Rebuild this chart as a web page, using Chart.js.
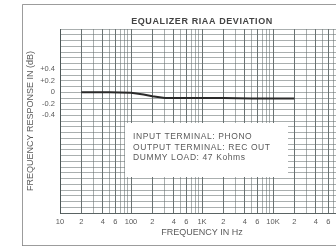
<!DOCTYPE html>
<html><head><meta charset="utf-8">
<script src="https://cdn.jsdelivr.net/npm/chart.js@4"></script>
<style>html,body{margin:0;padding:0;background:#fff;overflow:hidden;width:336px;height:247px}canvas{display:block}</style>
</head><body>
<canvas id="c" width="350" height="247"></canvas>
<script>
const frequencies = [20, 50, 100, 150, 200, 300, 500, 1000, 2000, 5000, 10000, 20000];
const deviationDb = [0, 0, -0.01, -0.04, -0.07, -0.1, -0.1, -0.1, -0.1, -0.11, -0.11, -0.11];
const yTickLabels = {'0.4':'+0.4','0.2':'+0.2','0':'0','-0.2':'-0.2','-0.4':'-0.4'};
const xTickLabels = {10:'10',20:'2',40:'4',60:'6',100:'100',200:'2',400:'4',600:'6',1000:'1K',2000:'2',4000:'4',6000:'6',10000:'10K',20000:'2',40000:'4',60000:'6'};
const decades = [10, 100, 1000, 10000];
const multiples = [1,2,3,4,5,6,7,8,9];
const noteLines = ['INPUT TERMINAL: PHONO','OUTPUT TERMINAL: REC OUT','DUMMY LOAD: 47 Kohms'];
const titleText = 'EQUALIZER RIAA DEVIATION';
const xTitle = 'FREQUENCY IN Hz';
const yTitle = 'FREQUENCY RESPONSE IN (dB)';

const textColor = '#5a5a5a';
const gridColor = 'rgba(100,110,110,0.55)';
const gridDark = 'rgba(70,80,80,0.8)';
const fontFam = '"Liberation Sans", Arial, sans-serif';

const xGridValues = [];
decades.forEach(d => multiples.forEach(m => xGridValues.push(d*m)));
xGridValues.push(100000);

const decor = {
  id: 'decor',
  beforeDatasetsDraw(chart) {
    const ctx = chart.ctx;
    ctx.save();
    ctx.fillStyle = '#fff';
    ctx.fillRect(125, 123, 163, 54);
    ctx.fillStyle = textColor;
    ctx.font = '8.5px ' + fontFam;
    ctx.letterSpacing = '0.6px';
    ctx.textBaseline = 'middle';
    ctx.textAlign = 'left';
    noteLines.forEach((t, i) => ctx.fillText(t, 133, 137 + i * 10.5));
    ctx.restore();
  },
  afterDraw(chart) {
    const ctx = chart.ctx, a = chart.chartArea;
    ctx.save();
    ctx.fillStyle = '#444';
    ctx.font = 'bold 9px ' + fontFam;
    ctx.letterSpacing = '0.6px';
    ctx.textAlign = 'center';
    ctx.textBaseline = 'middle';
    ctx.fillText(titleText, (a.left + a.right) / 2, 22);
    ctx.restore();
    ctx.save();
    ctx.strokeStyle = 'rgba(90,90,90,0.6)';
    ctx.lineWidth = 1;
    ctx.beginPath();
    ctx.moveTo(22.5, 246); ctx.lineTo(22.5, 4.5); ctx.lineTo(350, 4.5);
    ctx.moveTo(22.5, 245.5); ctx.lineTo(350, 245.5);
    ctx.stroke();
    ctx.restore();
  }
};

new Chart(document.getElementById('c'), {
  type: 'line',
  data: {
    datasets: [{
      data: frequencies.map((f, i) => ({x: f, y: deviationDb[i]})),
      borderColor: '#2a2a2a',
      borderWidth: 2,
      pointRadius: 0,
      tension: 0,
      fill: false
    }]
  },
  options: {
    responsive: false,
    devicePixelRatio: 1,
    animation: false,
    layout: {padding: {left: 22, top: 29, right: 6, bottom: 2}},
    plugins: {legend: {display: false}, tooltip: {enabled: false}, title: {display: false}},
    scales: {
      x: {
        type: 'logarithmic',
        min: 10, max: 100000,
        afterBuildTicks(s) { s.ticks = xGridValues.map(v => ({value: v})); },
        afterFit(s) { s.height = 32; },
        grid: {
          drawTicks: false,
          color: c => (c.tick && xTickLabels[c.tick.value]) ? gridDark : gridColor,
          lineWidth: 1
        },
        border: {color: gridDark},
        ticks: {
          autoSkip: false, maxRotation: 0, padding: 4,
          color: textColor,
          font: {size: 7.5, family: fontFam},
          callback: v => xTickLabels[v] || ''
        },
        title: {display: true, text: xTitle, color: textColor, padding: {top: 0, bottom: 7},
          font: {size: 9, family: fontFam}}
      },
      y: {
        type: 'linear',
        min: -2.1, max: 1.1,
        afterBuildTicks(s) { const t = []; for (let i = -21; i <= 11; i++) t.push({value: i / 10}); s.ticks = t; },
        afterFit(s) { s.width = 38; },
        grid: {drawTicks: false, color: gridColor, lineWidth: 1},
        border: {color: gridDark},
        ticks: {
          autoSkip: false, padding: 5,
          color: textColor,
          font: {size: 7.5, family: fontFam},
          callback: v => yTickLabels[String(Math.round(v * 10) / 10)] || ''
        },
        title: {display: true, text: yTitle, color: textColor, padding: {top: 3, bottom: 0},
          font: {size: 9, family: fontFam}}
      }
    }
  },
  plugins: [decor]
});
</script>
</body></html>
